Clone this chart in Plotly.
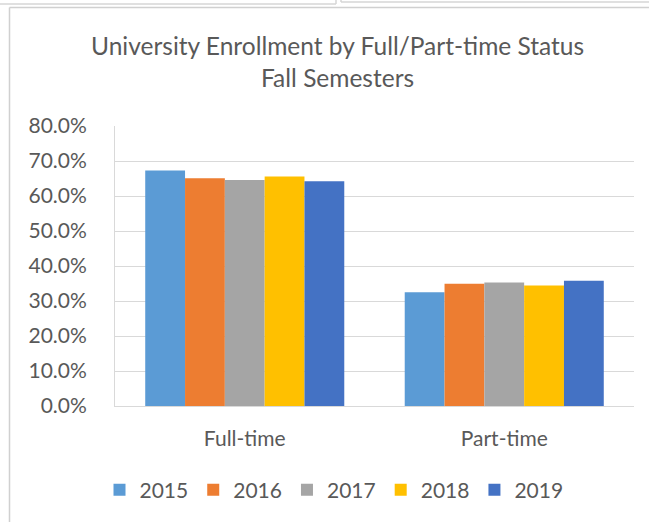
import plotly.graph_objects as go

categories = ["Full-time", "Part-time"]
years = ["2015", "2016", "2017", "2018", "2019"]
values_2015 = [0.673, 0.325]
values_2016 = [0.651, 0.349]
values_2017 = [0.646, 0.353]
values_2018 = [0.656, 0.344]
values_2019 = [0.642, 0.358]
series_values = [values_2015, values_2016, values_2017, values_2018, values_2019]
colors = ["#5B9BD5", "#ED7D31", "#A5A5A5", "#FFC000", "#4472C4"]
y_tickvals = [0, 0.1, 0.2, 0.3, 0.4, 0.5, 0.6, 0.7, 0.8]
title_line1 = "University Enrollment by Full/Part-time Status"
title_line2 = "Fall Semesters"

FONT = "Lato, 'Open Sans', sans-serif"
TXT = "#595959"
GRID = "#D9D9D9"

fig = go.Figure()
for yr, vals, col in zip(years, series_values, colors):
    fig.add_trace(go.Bar(name=yr, x=categories, y=vals, marker=dict(color=col, line=dict(width=0))))

W, H = 649, 522
L, R, T, B = 115, 15, 126, 116
pw, ph = W - L - R, H - T - B

def px_x(px):
    return (px - L) / pw

def px_y(py):
    return (H - B - py) / ph

shapes = [
    dict(type="line", xref="paper", yref="paper", x0=px_x(9.5), x1=px_x(700), y0=px_y(7.5), y1=px_y(7.5),
         line=dict(color="#D0D0D0", width=1.5)),
    dict(type="line", xref="paper", yref="paper", x0=px_x(9.5), x1=px_x(9.5), y0=px_y(7.5), y1=px_y(560),
         line=dict(color="#D0D0D0", width=1.5)),
    dict(type="line", xref="paper", yref="paper", x0=px_x(-5), x1=px_x(336), y0=px_y(4), y1=px_y(4),
         line=dict(color="#D6D6D6", width=1.5)),
    dict(type="line", xref="paper", yref="paper", x0=px_x(336), x1=px_x(336), y0=px_y(-5), y1=px_y(4),
         line=dict(color="#D6D6D6", width=1.5)),
    dict(type="line", xref="paper", yref="paper", x0=px_x(341), x1=px_x(700), y0=px_y(2), y1=px_y(2),
         line=dict(color="#D6D6D6", width=1.5)),
    dict(type="line", xref="paper", yref="paper", x0=px_x(341), x1=px_x(341), y0=px_y(-5), y1=px_y(2),
         line=dict(color="#D6D6D6", width=1.5)),
]

annotations = [
    dict(text=title_line1, xref="paper", yref="paper", x=px_x(337), y=px_y(46),
         xanchor="center", yanchor="middle", showarrow=False,
         font=dict(family=FONT, color=TXT, size=24.5)),
    dict(text=title_line2, xref="paper", yref="paper", x=px_x(337), y=px_y(78),
         xanchor="center", yanchor="middle", showarrow=False,
         font=dict(family=FONT, color=TXT, size=24.5)),
]

fig.update_layout(
    width=W, height=H,
    margin=dict(l=L, r=R, t=T, b=B, autoexpand=False),
    paper_bgcolor="white", plot_bgcolor="white",
    font=dict(family=FONT, color=TXT, size=21),
    barmode="group", bargap=0.233, bargroupgap=0,
    showlegend=True,
    legend=dict(orientation="h", xref="paper", x=px_x(334), xanchor="center",
                yref="paper", y=px_y(490), yanchor="middle",
                font=dict(family=FONT, color=TXT, size=21),
                itemwidth=30, traceorder="normal"),
    shapes=shapes,
    annotations=annotations,
)
fig.update_xaxes(showgrid=False, showline=True, linecolor=GRID, linewidth=1,
                 ticks="", tickfont=dict(size=21, color=TXT), ticklabelstandoff=14)
fig.update_yaxes(range=[0, 0.8], tickvals=y_tickvals, tickformat=".1%",
                 showgrid=True, gridcolor=GRID, gridwidth=1,
                 showline=True, linecolor=GRID, linewidth=1, zeroline=False,
                 ticks="", tickfont=dict(size=21, color=TXT), ticklabelstandoff=23)

fig.write_html("out.html", config={"displayModeBar": False},
               post_script="document.body.style.margin='0';document.body.style.overflow='hidden';")
